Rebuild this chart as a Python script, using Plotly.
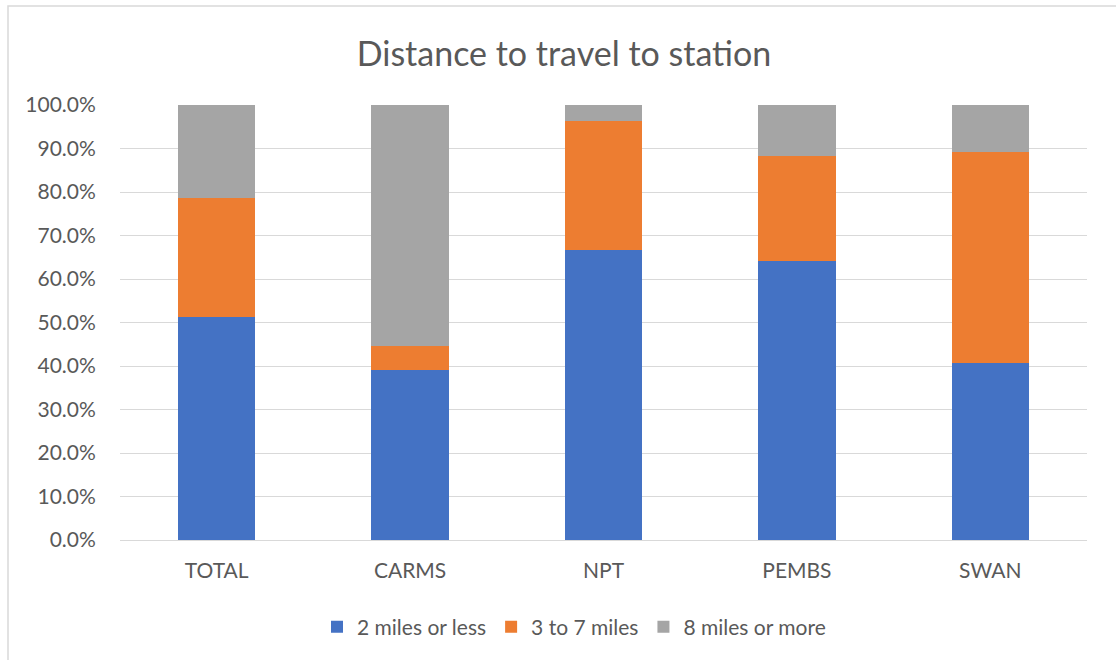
import plotly.graph_objects as go

categories = ["TOTAL", "CARMS", "NPT", "PEMBS", "SWAN"]
series_names = ["2 miles or less", "3 to 7 miles", "8 miles or more"]
two_or_less = [51.2, 39.0, 66.6, 64.1, 40.8]
three_to_seven = [27.4, 5.5, 29.7, 24.2, 48.4]
eight_or_more = [21.4, 55.5, 3.7, 11.7, 10.8]
colors = ["#4472C4", "#ED7D31", "#A5A5A5"]
y_ticks = [0, 10, 20, 30, 40, 50, 60, 70, 80, 90, 100]
y_labels = [f"{v:.1f}%" for v in y_ticks]

FONT = "Lato, 'Open Sans', sans-serif"
TXT = "#595959"

fig = go.Figure()
for name, vals, c in zip(series_names, [two_or_less, three_to_seven, eight_or_more], colors):
    fig.add_trace(go.Bar(x=categories, y=vals, name=name, marker=dict(color=c, line=dict(width=0))))

W, H = 1116, 660
ml, mr, mt, mb = 120, 29, 105, 120
pw, ph = W - ml - mr, H - mt - mb

def px(x):
    return (x - ml) / pw

def py(y):
    return (H - mb - y) / ph

fig.update_layout(
    width=W, height=H,
    margin=dict(l=ml, r=mr, t=mt, b=mb, autoexpand=False),
    barmode="stack",
    bargap=0.6,
    paper_bgcolor="white",
    plot_bgcolor="white",
    font=dict(family=FONT, color=TXT, size=21),
    title=dict(text="Distance to travel to station", x=px(564), xref="paper", xanchor="center",
               y=1 - 54 / H, yanchor="middle", font=dict(size=34, color=TXT, family=FONT)),
    xaxis=dict(showgrid=False, showline=True, linecolor="#D9D9D9", linewidth=1,
               ticks="outside", ticklen=12, tickcolor="rgba(0,0,0,0)",
               tickfont=dict(size=21, color=TXT)),
    yaxis=dict(range=[0, 100], tickvals=y_ticks, ticktext=y_labels,
               showgrid=True, gridcolor="#D9D9D9", gridwidth=1, zeroline=False,
               ticks="outside", ticklen=19, tickcolor="rgba(0,0,0,0)",
               tickfont=dict(size=21, color=TXT)),
    legend=dict(orientation="h", x=px(574), xanchor="center", y=py(627), yanchor="middle",
                font=dict(size=21, color=TXT), itemwidth=30, traceorder="normal"),
    shapes=[dict(type="rect", xref="paper", yref="paper",
                 x0=px(8), x1=px(1125), y0=py(670), y1=py(6),
                 line=dict(color="#D9D9D9", width=1.5), fillcolor="rgba(0,0,0,0)", layer="below")],
)

fig.write_html("out.html")
